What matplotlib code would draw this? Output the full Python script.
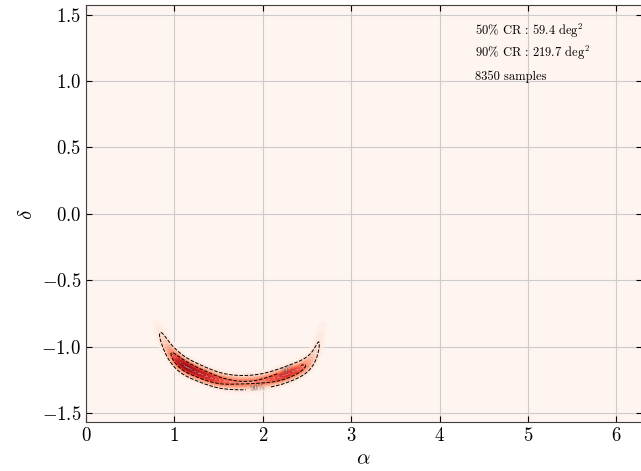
import numpy as np
import matplotlib
matplotlib.use("Agg")
import matplotlib.pyplot as plt

plt.rcParams["font.family"] = "serif"
plt.rcParams["font.serif"] = ["cmr10", "DejaVu Serif"]
plt.rcParams["mathtext.fontset"] = "cm"
plt.rcParams["axes.formatter.use_mathtext"] = True

# posterior arc: centre points, relative weight
arc_alpha = [0.85, 0.91, 0.98, 1.05, 1.13, 1.22, 1.32, 1.42, 1.52, 1.62, 1.72,
             1.82, 1.92, 2.02, 2.12, 2.22, 2.32, 2.42, 2.50, 2.57, 2.62, 2.65]
arc_delta = [-0.91, -0.99, -1.06, -1.11, -1.15, -1.18, -1.21, -1.235, -1.255, -1.265, -1.27,
             -1.27, -1.265, -1.255, -1.24, -1.22, -1.195, -1.165, -1.13, -1.07, -0.99, -0.91]
arc_weight = [0.18, 0.28, 0.5, 0.9, 1.0, 1.0, 0.95, 0.85, 0.7, 0.6, 0.55,
              0.55, 0.55, 0.6, 0.7, 0.85, 0.85, 0.7, 0.4, 0.22, 0.14, 0.1]

cr_lines = ["50% CR : 59.4 deg$^2$", "90% CR : 219.7 deg$^2$", "8350 samples"]
xticks = [0, 1, 2, 3, 4, 5, 6]
yticks = [-1.5, -1.0, -0.5, 0.0, 0.5, 1.0, 1.5]

# density grid
gx = np.linspace(0, 2 * np.pi, 500)
gy = np.linspace(-np.pi / 2, np.pi / 2, 300)
X, Y = np.meshgrid(gx, gy)
ax_ = np.array(arc_alpha)
ay_ = np.array(arc_delta)
tx = np.gradient(ax_)
ty = np.gradient(ay_)
nrm = np.hypot(tx, ty)
tx, ty = tx / nrm, ty / nrm
Z = np.zeros_like(X)
for a, d, w, ux, uy in zip(ax_, ay_, arc_weight, tx, ty):
    dx, dy = X - a, Y - d
    along = dx * ux + dy * uy
    across = -dx * uy + dy * ux
    Z += w * np.exp(-0.5 * (along / 0.07) ** 2 - 0.5 * (across / 0.032) ** 2)

p = Z.ravel() / Z.sum()
srt = np.sort(p)[::-1]
cum = np.cumsum(srt)
lvl50 = srt[np.searchsorted(cum, 0.5)] * Z.sum()
lvl90 = srt[np.searchsorted(cum, 0.9)] * Z.sum()

fig = plt.figure(figsize=(6.41, 4.71), dpi=100)
ax = fig.add_axes([0.1342, 0.1032, 0.8666, 0.8856])
ax.set_facecolor("#fef4f0")
ax.grid(True, color="0.8", linewidth=0.8)
ax.set_axisbelow(True)
lv = np.linspace(Z.max() * 0.02, Z.max(), 20)
ax.contourf(X, Y, Z, levels=lv, cmap="Reds", vmin=0, vmax=Z.max() * 1.05, alpha=0.68, zorder=2)
cs = ax.contour(X, Y, Z, levels=[lvl90, lvl50], colors="k", linestyles="--", linewidths=0.7, zorder=3)
ax.clabel(cs, fmt={lvl90: "90%", lvl50: "50%"}, fontsize=6, colors="0.4",
          manual=[(2.3, -1.18), (1.95, -1.32)])

ax.set_xlim(0, 2 * np.pi)
ax.set_ylim(-np.pi / 2, np.pi / 2)
ax.set_xticks(xticks)
ax.set_yticks(yticks)
ax.tick_params(direction="in", top=True, right=True, labelsize=13.5, length=4)
for s in ax.spines.values():
    s.set_color("0.25")
ax.set_xlabel(r"$\alpha$", fontsize=15)
ax.set_ylabel(r"$\delta$", fontsize=15)

for t, yy in zip(cr_lines, [0.929, 0.876, 0.821]):
    ax.text(0.70, yy, t, transform=ax.transAxes, fontsize=9, va="baseline")

fig.savefig("out.png", dpi=100)
